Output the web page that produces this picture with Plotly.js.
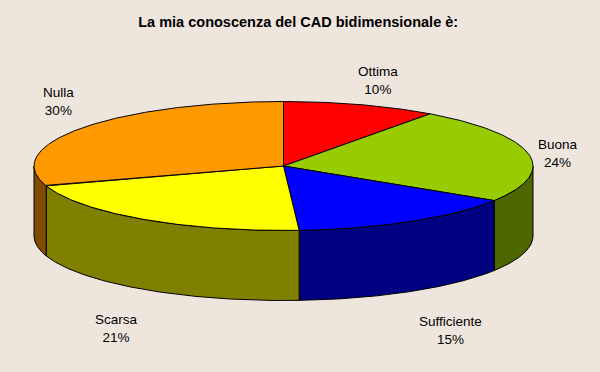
<!DOCTYPE html>
<html>
<head>
<meta charset="utf-8">
<script src="https://cdn.plot.ly/plotly-3.0.1.min.js"></script>
<style>
  html, body { margin: 0; padding: 0; background: #eee6dd; }
  #chart { width: 600px; height: 372px; }
</style>
</head>
<body>
<div id="chart"></div>
<script>
// ---- data ----
const categories = ['Ottima', 'Buona', 'Sufficiente', 'Scarsa', 'Nulla'];
const values = [10, 24, 15, 21, 30];
const topColors = ['#ff0000', '#99cc00', '#0000ff', '#ffff00', '#ff9900'];
const sideColors = ['#800000', '#4d6600', '#000080', '#808000', '#804d00'];
// label anchor positions (layout, pixel space)
const labelX = [378, 558, 450, 116, 58];
const labelY = [80, 153, 330, 328, 101];

// ---- geometry (layout) ----
const cx = 283.5, cy = 166, rx = 249.5, ry = 64.5, depth = 70;
const total = values.reduce((a, b) => a + b, 0);

function pt(deg, dy) {
  const t = deg * Math.PI / 180;
  return [cx + rx * Math.sin(t), cy - ry * Math.cos(t) + dy];
}
function arc(a0, a1, dy) {
  const pts = [];
  const n = Math.max(2, Math.ceil(Math.abs(a1 - a0) / 0.5));
  for (let i = 0; i <= n; i++) pts.push(pt(a0 + (a1 - a0) * i / n, dy));
  return pts;
}

const traces = [];
const sideTraces = [];
const topTraces = [];
let acc = 0;
values.forEach((v, i) => {
  const a0 = acc / total * 360;
  acc += v;
  const a1 = acc / total * 360;
  // top face
  const topPts = [[cx, cy]].concat(arc(a0, a1, 0)).concat([[cx, cy]]);
  topTraces.push({
    type: 'scatter', mode: 'lines', fill: 'toself',
    x: topPts.map(p => p[0]), y: topPts.map(p => p[1]),
    fillcolor: topColors[i], line: {color: '#000000', width: 1},
    hoverinfo: 'skip', showlegend: false
  });
  // visible outer side (front half: 90..270)
  const s0 = Math.max(a0, 90), s1 = Math.min(a1, 270);
  if (s1 > s0) {
    const up = arc(s0, s1, 0);
    const dn = arc(s1, s0, depth);
    const pts = up.concat(dn).concat([up[0]]);
    sideTraces.push({
      type: 'scatter', mode: 'lines', fill: 'toself',
      x: pts.map(p => p[0]), y: pts.map(p => p[1]),
      fillcolor: sideColors[i], line: {color: '#000000', width: 1},
      hoverinfo: 'skip', showlegend: false
    });
  }
});
traces.push(...sideTraces, ...topTraces);

const annotations = categories.map((c, i) => ({
  x: labelX[i], y: labelY[i], xref: 'x', yref: 'y',
  text: c + '<br>' + Math.round(values[i] / total * 100) + '%',
  showarrow: false, align: 'center',
  font: {family: 'Liberation Sans, Arial, sans-serif', size: 13.5, color: '#000000'}
}));

const layout = {
  width: 600, height: 372,
  margin: {l: 0, r: 0, t: 0, b: 0},
  paper_bgcolor: '#eee6dd', plot_bgcolor: '#eee6dd',
  title: {
    text: '<b>La mia conoscenza del CAD bidimensionale è:</b>',
    x: 0.497, xanchor: 'center', y: 1 - 22 / 372, yanchor: 'middle',
    yref: 'paper', xref: 'paper',
    font: {family: 'Liberation Sans, Arial, sans-serif', size: 14.5, color: '#000000'}
  },
  xaxis: {range: [0, 600], visible: false, fixedrange: true},
  yaxis: {range: [372, 0], visible: false, fixedrange: true},
  annotations: annotations,
  showlegend: false
};

Plotly.newPlot('chart', traces, layout, {displayModeBar: false, staticPlot: true});
</script>
</body>
</html>
